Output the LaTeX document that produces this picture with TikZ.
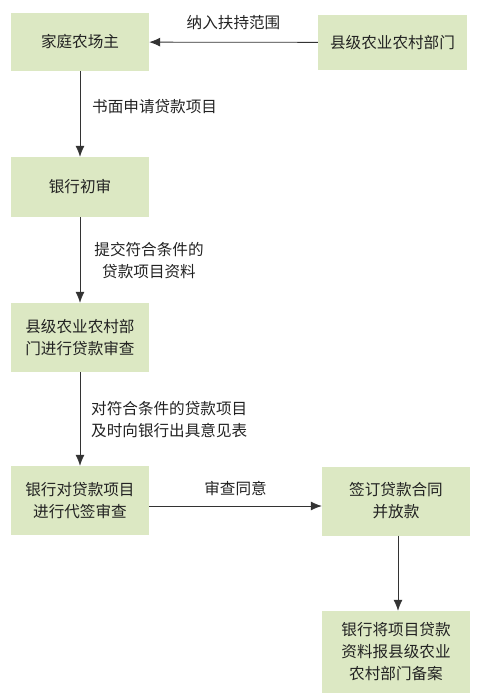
\documentclass[tikz,border=0pt]{standalone}
\usepackage{fontspec}
\newfontfamily\cjk{Noto Sans CJK SC}
\usetikzlibrary{arrows.meta}
\definecolor{boxgreen}{HTML}{DCE8C3}
\definecolor{txt}{HTML}{222222}
\begin{document}
\begin{tikzpicture}[x=1pt,y=-1pt,
  font=\cjk\fontsize{15.6}{22}\selectfont,
  box/.style={rectangle, fill=boxgreen, draw=none, text=txt, align=center, inner sep=0pt},
  lbl/.style={text=txt, inner sep=0pt},
  conn/.style={draw=black!80, line width=0.8pt, -{Latex[length=11pt,width=9pt]}}]
\useasboundingbox (0,0) rectangle (482,699);
\node[box, minimum width=138pt, minimum height=58pt] (farm) at (80,42) {家庭农场主};
\node[box, minimum width=149pt, minimum height=55pt] (county) at (392.5,42.5) {县级农业农村部门};
\node[box, minimum width=138pt, minimum height=60pt] (bank1) at (80,187) {银行初审};
\node[box, minimum width=138pt, minimum height=69pt] (review) at (80,337.5) {县级农业农村部\\门进行贷款审查};
\node[box, minimum width=138pt, minimum height=69pt] (bank2) at (80,500.5) {银行对贷款项目\\进行代签审查};
\node[box, minimum width=148pt, minimum height=69pt] (sign) at (396,501) {签订贷款合同\\并放款};
\node[box, minimum width=148pt, minimum height=82pt] (file) at (396,652) {银行将项目贷款\\资料报县级农业\\农村部门备案};

\draw[conn] (county) -- (farm) node[lbl, midway, above=12pt] {纳入扶持范围};
\draw[conn] (farm) -- (bank1);
\node[lbl, anchor=west] (l1) at (92,107) {书面申请贷款项目};
\draw[conn] (bank1) -- (review);
\node[lbl, align=center] (l2) at (149,261) {提交符合条件的\\贷款项目资料};
\draw[conn] (review) -- (bank2);
\node[lbl, align=left, anchor=west] (l3) at (91,420) {对符合条件的贷款项目\\及时向银行出具意见表};
\draw[conn] (bank2.east |- 0,506) -- (sign.west |- 0,506) node[lbl, midway, above=10pt] {审查同意};
\draw[conn] (sign.south -| 398,0) -- (file.north -| 398,0);
\end{tikzpicture}
\end{document}
